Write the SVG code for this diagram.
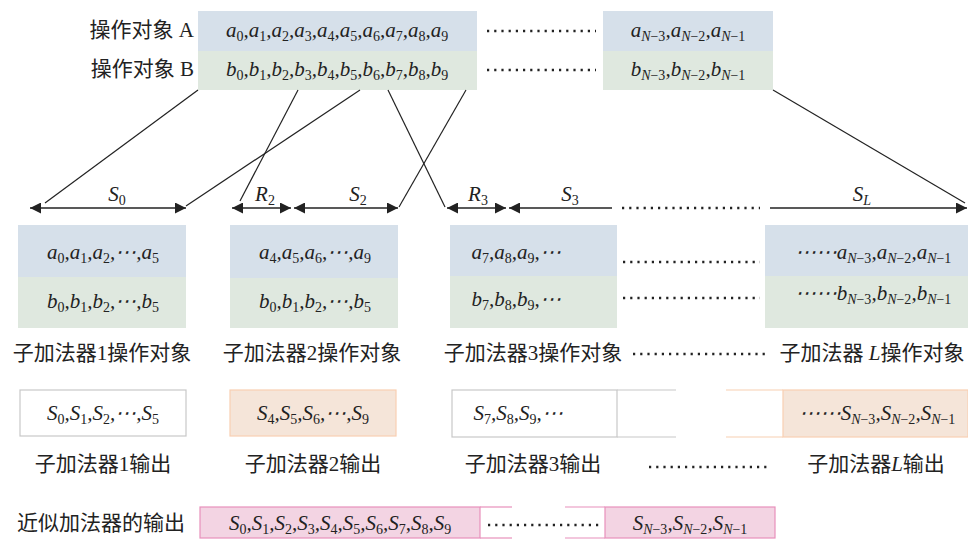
<svg xmlns="http://www.w3.org/2000/svg" width="968" height="540" viewBox="0 0 968 540">
<defs>
<style>
.v{font-family:"Liberation Serif",serif;font-size:21px;font-style:italic;fill:#222}
.s{font-size:14px;font-style:normal;baseline-shift:-4px}
.i{font-style:italic}
.cn{font-family:"Liberation Serif","Noto Sans CJK SC",sans-serif;font-size:21px;fill:#222}
.blue{fill:#d6e0ea}
.green{fill:#dfe8df}
.peach{fill:#f5e5d9;stroke:#f8cfb2;stroke-width:1.2}
.peachl{stroke:#f8cfb2;stroke-width:1.2}
.grayb{fill:#fff;stroke:#c8c8c8;stroke-width:1.2}
.grayl{stroke:#c8c8c8;stroke-width:1.2}
.pink{fill:#f3d4e3;stroke:#e890bb;stroke-width:1.2}
.pinkl{stroke:#e890bb;stroke-width:1.2}
.dots{stroke:#222;stroke-width:2.4;stroke-dasharray:2.2 5;fill:none}
.ln{stroke:#222;stroke-width:1.2;fill:none}
.arr{stroke:#222;stroke-width:1.4;fill:none}
.sa{marker-start:url(#ah)}
.ea{marker-end:url(#ah)}
</style>
<marker id="ah" viewBox="0 0 10 10" refX="10" refY="5" markerWidth="11" markerHeight="11" markerUnits="userSpaceOnUse" orient="auto-start-reverse">
<path d="M0,0 L10,5 L0,10 z" fill="#222"/>
</marker>
</defs>
<rect width="968" height="540" fill="#fff"/>

<g id="operandA">
<rect class="blue" x="198" y="11" width="279" height="40"/>
<rect class="blue" x="603" y="11" width="170" height="40"/>
<text class="cn" x="194" y="37" text-anchor="end">操作对象 A</text>
<text class="v" x="337" y="37" text-anchor="middle">a<tspan class="s">0</tspan>,a<tspan class="s">1</tspan>,a<tspan class="s">2</tspan>,a<tspan class="s">3</tspan>,a<tspan class="s">4</tspan>,a<tspan class="s">5</tspan>,a<tspan class="s">6</tspan>,a<tspan class="s">7</tspan>,a<tspan class="s">8</tspan>,a<tspan class="s">9</tspan></text>
<line class="dots" x1="487" y1="31" x2="596" y2="31"/>
<text class="v" x="688" y="37" text-anchor="middle">a<tspan class="s"><tspan class="i">N</tspan>−3</tspan>,a<tspan class="s"><tspan class="i">N</tspan>−2</tspan>,a<tspan class="s"><tspan class="i">N</tspan>−1</tspan></text>
</g>

<g id="operandB">
<rect class="green" x="198" y="51" width="279" height="39"/>
<rect class="green" x="603" y="51" width="170" height="39"/>
<text class="cn" x="194" y="76" text-anchor="end">操作对象 B</text>
<text class="v" x="337" y="76" text-anchor="middle">b<tspan class="s">0</tspan>,b<tspan class="s">1</tspan>,b<tspan class="s">2</tspan>,b<tspan class="s">3</tspan>,b<tspan class="s">4</tspan>,b<tspan class="s">5</tspan>,b<tspan class="s">6</tspan>,b<tspan class="s">7</tspan>,b<tspan class="s">8</tspan>,b<tspan class="s">9</tspan></text>
<line class="dots" x1="487" y1="70" x2="596" y2="70"/>
<text class="v" x="688" y="76" text-anchor="middle">b<tspan class="s"><tspan class="i">N</tspan>−3</tspan>,b<tspan class="s"><tspan class="i">N</tspan>−2</tspan>,b<tspan class="s"><tspan class="i">N</tspan>−1</tspan></text>
</g>

<g id="connectors">
<line class="ln" x1="198" y1="90" x2="45" y2="203"/>
<line class="ln" x1="298" y1="90" x2="240" y2="201"/>
<line class="ln" x1="360" y1="90" x2="186" y2="206"/>
<line class="ln" x1="388" y1="90" x2="445" y2="207"/>
<line class="ln" x1="466" y1="90" x2="399" y2="207"/>
<line class="ln" x1="773" y1="90" x2="965" y2="203"/>
<line class="arr sa ea" x1="30" y1="208" x2="186" y2="208"/>
<line class="arr sa ea" x1="232" y1="208" x2="291" y2="208"/>
<line class="arr sa ea" x1="294" y1="208" x2="398" y2="208"/>
<line class="arr sa ea" x1="447" y1="208" x2="506" y2="208"/>
<line class="arr sa" x1="509" y1="208" x2="612" y2="208"/>
<line class="dots" x1="622" y1="208" x2="760" y2="208"/>
<line class="arr ea" x1="770" y1="208" x2="967" y2="208"/>
<text class="v" x="117" y="201" text-anchor="middle">S<tspan class="s">0</tspan></text>
<text class="v" x="265" y="201" text-anchor="middle">R<tspan class="s">2</tspan></text>
<text class="v" x="358" y="201" text-anchor="middle">S<tspan class="s">2</tspan></text>
<text class="v" x="478" y="201" text-anchor="middle">R<tspan class="s">3</tspan></text>
<text class="v" x="570" y="201" text-anchor="middle">S<tspan class="s">3</tspan></text>
<text class="v" x="862" y="201" text-anchor="middle">S<tspan class="s"><tspan class="i">L</tspan></tspan></text>
</g>

<g id="sub1-operands">
<rect class="blue" x="18" y="225" width="168" height="52"/>
<rect class="green" x="18" y="277" width="168" height="51"/>
<text class="v" x="103" y="259" text-anchor="middle">a<tspan class="s">0</tspan>,a<tspan class="s">1</tspan>,a<tspan class="s">2</tspan>,⋯,a<tspan class="s">5</tspan></text>
<text class="v" x="103" y="308" text-anchor="middle">b<tspan class="s">0</tspan>,b<tspan class="s">1</tspan>,b<tspan class="s">2</tspan>,⋯,b<tspan class="s">5</tspan></text>
<text class="cn" x="102" y="360" text-anchor="middle">子加法器1操作对象</text>
</g>

<g id="sub2-operands">
<rect class="blue" x="230" y="225" width="168" height="53"/>
<rect class="green" x="230" y="278" width="168" height="50"/>
<text class="v" x="315" y="259" text-anchor="middle">a<tspan class="s">4</tspan>,a<tspan class="s">5</tspan>,a<tspan class="s">6</tspan>,⋯,a<tspan class="s">9</tspan></text>
<text class="v" x="315" y="308" text-anchor="middle">b<tspan class="s">0</tspan>,b<tspan class="s">1</tspan>,b<tspan class="s">2</tspan>,⋯,b<tspan class="s">5</tspan></text>
<text class="cn" x="312" y="360" text-anchor="middle">子加法器2操作对象</text>
</g>

<g id="sub3-operands">
<rect class="blue" x="450" y="225" width="167" height="51"/>
<rect class="green" x="450" y="276" width="167" height="52"/>
<text class="v" x="516" y="259" text-anchor="middle">a<tspan class="s">7</tspan>,a<tspan class="s">8</tspan>,a<tspan class="s">9</tspan>,⋯</text>
<text class="v" x="516" y="306" text-anchor="middle">b<tspan class="s">7</tspan>,b<tspan class="s">8</tspan>,b<tspan class="s">9</tspan>,⋯</text>
<line class="dots" x1="623" y1="262" x2="760" y2="262"/>
<line class="dots" x1="623" y1="298" x2="760" y2="298"/>
<text class="cn" x="533" y="360" text-anchor="middle">子加法器3操作对象</text>
<line class="dots" x1="633" y1="354" x2="766" y2="354"/>
</g>

<g id="subL-operands">
<rect class="blue" x="765" y="225" width="203" height="51"/>
<rect class="green" x="765" y="276" width="203" height="52"/>
<text class="v" x="873" y="259" text-anchor="middle">⋯⋯a<tspan class="s"><tspan class="i">N</tspan>−3</tspan>,a<tspan class="s"><tspan class="i">N</tspan>−2</tspan>,a<tspan class="s"><tspan class="i">N</tspan>−1</tspan></text>
<text class="v" x="873" y="300" text-anchor="middle">⋯⋯b<tspan class="s"><tspan class="i">N</tspan>−3</tspan>,b<tspan class="s"><tspan class="i">N</tspan>−2</tspan>,b<tspan class="s"><tspan class="i">N</tspan>−1</tspan></text>
<text class="cn" x="872" y="360" text-anchor="middle">子加法器 <tspan class="i">L</tspan>操作对象</text>
</g>

<g id="sub1-output">
<rect class="grayb" x="20" y="390" width="166" height="46"/>
<text class="v" x="103" y="420" text-anchor="middle">S<tspan class="s">0</tspan>,S<tspan class="s">1</tspan>,S<tspan class="s">2</tspan>,⋯,S<tspan class="s">5</tspan></text>
<text class="cn" x="103" y="471" text-anchor="middle">子加法器1输出</text>
</g>

<g id="sub2-output">
<rect class="peach" x="230" y="390" width="166" height="46"/>
<text class="v" x="313" y="420" text-anchor="middle">S<tspan class="s">4</tspan>,S<tspan class="s">5</tspan>,S<tspan class="s">6</tspan>,⋯,S<tspan class="s">9</tspan></text>
<text class="cn" x="313" y="471" text-anchor="middle">子加法器2输出</text>
</g>

<g id="sub3-output">
<rect class="grayb" x="452" y="390" width="165" height="47"/>
<line class="grayl" x1="617" y1="390" x2="676" y2="390"/>
<line class="grayl" x1="617" y1="437" x2="676" y2="437"/>
<text class="v" x="518" y="420" text-anchor="middle">S<tspan class="s">7</tspan>,S<tspan class="s">8</tspan>,S<tspan class="s">9</tspan>,⋯</text>
<text class="cn" x="533" y="471" text-anchor="middle">子加法器3输出</text>
<line class="dots" x1="649" y1="467" x2="771" y2="467"/>
</g>

<g id="subL-output">
<line class="peachl" x1="726" y1="390" x2="783" y2="390"/>
<line class="peachl" x1="726" y1="437" x2="783" y2="437"/>
<rect class="peach" x="783" y="390" width="185" height="47"/>
<text class="v" x="877" y="420" text-anchor="middle">⋯⋯S<tspan class="s"><tspan class="i">N</tspan>−3</tspan>,S<tspan class="s"><tspan class="i">N</tspan>−2</tspan>,S<tspan class="s"><tspan class="i">N</tspan>−1</tspan></text>
<text class="cn" x="876" y="471" text-anchor="middle">子加法器<tspan class="i">L</tspan>输出</text>
</g>

<g id="approx-output">
<text class="cn" x="17" y="530">近似加法器的输出</text>
<rect class="pink" x="200" y="507" width="280" height="31"/>
<line class="pinkl" x1="480" y1="507" x2="512" y2="507"/>
<line class="pinkl" x1="480" y1="538" x2="512" y2="538"/>
<line class="pinkl" x1="565" y1="507" x2="605" y2="507"/>
<line class="pinkl" x1="565" y1="538" x2="605" y2="538"/>
<text class="v" x="340" y="530" text-anchor="middle">S<tspan class="s">0</tspan>,S<tspan class="s">1</tspan>,S<tspan class="s">2</tspan>,S<tspan class="s">3</tspan>,S<tspan class="s">4</tspan>,S<tspan class="s">5</tspan>,S<tspan class="s">6</tspan>,S<tspan class="s">7</tspan>,S<tspan class="s">8</tspan>,S<tspan class="s">9</tspan></text>
<line class="dots" x1="488" y1="525" x2="600" y2="525"/>
<rect class="pink" x="605" y="507" width="170" height="31"/>
<text class="v" x="690" y="530" text-anchor="middle">S<tspan class="s"><tspan class="i">N</tspan>−3</tspan>,S<tspan class="s"><tspan class="i">N</tspan>−2</tspan>,S<tspan class="s"><tspan class="i">N</tspan>−1</tspan></text>
</g>
</svg>
